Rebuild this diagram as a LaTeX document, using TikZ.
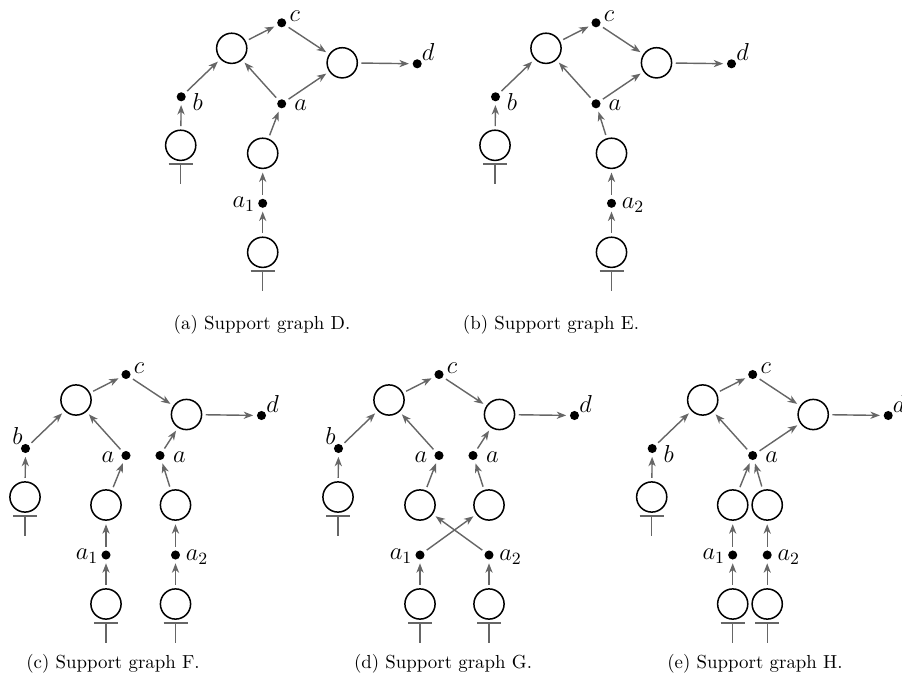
\documentclass[tikz,border=0pt]{standalone}
\usepackage{fix-cm}
\usetikzlibrary{arrows.meta}
\begin{document}
\begin{tikzpicture}[x=0.53pt,y=-0.53pt,
  gate/.style={circle,draw=black,line width=0.8pt,minimum size=16pt,inner sep=0pt},
  dot/.style={circle,fill=black,minimum size=4.8pt,inner sep=0pt},
  lbl/.style={inner sep=0pt,font=\fontsize{13}{15}\selectfont},
  arr/.style={draw=black!60,line width=0.75pt,-{Stealth[length=5pt,width=3.8pt,inset=1.5pt]},shorten >=1.8pt,shorten <=1.8pt},
  topbar/.style={draw=black!60,line width=0.75pt},
  captext/.style={inner sep=0pt}
]
\useasboundingbox (0,0) rectangle (902,681);
\clip (0,0) rectangle (902,681);

% ---------------- (a) ----------------
\begin{scope}[shift={(231.7,48.3)}]
  \node[gate] (aA1) at (0,0) {};
  \node[dot]  (ac)  at (50,-25.5) {};
  \node[gate] (aA2) at (110.5,14.5) {};
  \node[dot]  (ad)  at (185.5,15.5) {};
  \node[dot]  (ab)  at (-50.5,48.5) {};
  \node[dot]  (aa)  at (50,55.5) {};
  \node[gate] (aB)  at (-51,97) {};
  \node[gate] (aM1) at (31,105) {};
  \node[dot]  (aa1) at (31,155) {};
  \node[gate] (aG1) at (31,204) {};
  \node[lbl] (acl) at (63,-32) {$c$};
  \node[lbl] (adl) at (196.5,3.5) {$d$};
  \node[lbl] (abl) at (-34,54) {$b$};
  \node[lbl] (aal) at (69,57) {$a$};
  \node[lbl] (aa1l) at (12,156) {$a_1$};
\end{scope}
\node[captext] (capa) at (262,325) {(a) Support graph D.};
\draw[arr] (ab) -- (aA1);
\draw[arr] (aA1) -- (ac);
\draw[arr] (ac) -- (aA2);
\draw[arr] (aa) -- (aA1);
\draw[arr] (aa) -- (aA2);
\draw[arr] (aA2) -- (ad);
\draw[arr] (aB) -- (ab);
\draw[arr] (aM1) -- (aa);
\draw[arr] (aa1) -- (aM1);
\draw[arr] (aG1) -- (aa1);
\draw[topbar] (aB.south) ++(-12,3) -- ++(24,0) (aB.south) ++(0,3) -- ++(0,20);
\draw[topbar] (aG1.south) ++(-12,3) -- ++(24,0) (aG1.south) ++(0,3) -- ++(0,20);

% ---------------- (b) ----------------
\begin{scope}[shift={(546,48.3)}]
  \node[gate] (bA1) at (0,0) {};
  \node[dot]  (bc)  at (50,-25.5) {};
  \node[gate] (bA2) at (110.5,14.5) {};
  \node[dot]  (bd)  at (185.5,15.5) {};
  \node[dot]  (bb)  at (-50.5,48.5) {};
  \node[dot]  (ba)  at (50,55.5) {};
  \node[gate] (bB)  at (-51,97) {};
  \node[gate] (bM1) at (65.5,105) {};
  \node[dot]  (ba2) at (65.5,155) {};
  \node[gate] (bG1) at (65.5,204) {};
  \node[lbl] (bcl) at (63,-32) {$c$};
  \node[lbl] (bdl) at (196.5,3.5) {$d$};
  \node[lbl] (bbl) at (-34,54) {$b$};
  \node[lbl] (bal) at (69,57) {$a$};
  \node[lbl] (ba2l) at (87,157) {$a_2$};
\end{scope}
\node[captext] (capb) at (551,325) {(b) Support graph E.};
\draw[arr] (bb) -- (bA1);
\draw[arr] (bA1) -- (bc);
\draw[arr] (bc) -- (bA2);
\draw[arr] (ba) -- (bA1);
\draw[arr] (ba) -- (bA2);
\draw[arr] (bA2) -- (bd);
\draw[arr] (bB) -- (bb);
\draw[arr] (bM1) -- (ba);
\draw[arr] (ba2) -- (bM1);
\draw[arr] (bG1) -- (ba2);
\draw[topbar] (bB.south) ++(-12,3) -- ++(24,0) (bB.south) ++(0,3) -- ++(0,20);
\draw[topbar] (bG1.south) ++(-12,3) -- ++(24,0) (bG1.south) ++(0,3) -- ++(0,20);

% ---------------- (c) ----------------
\begin{scope}[shift={(76,400)}]
  \node[gate] (cA1) at (0,0) {};
  \node[dot]  (cc)  at (50,-25.5) {};
  \node[gate] (cA2) at (110.5,14.5) {};
  \node[dot]  (cd)  at (185.5,15.5) {};
  \node[dot]  (cb)  at (-50.5,48.5) {};
  \node[dot]  (caL) at (50,55.5) {};
  \node[dot]  (caR) at (84,55.5) {};
  \node[gate] (cB)  at (-51,97) {};
  \node[gate] (cM1) at (30,105) {};
  \node[gate] (cM2) at (99.5,105) {};
  \node[dot]  (ca1) at (30,155) {};
  \node[dot]  (ca2) at (99.5,155) {};
  \node[gate] (cG1) at (30,204) {};
  \node[gate] (cG2) at (99.5,204) {};
  \node[lbl] (ccl) at (63,-32) {$c$};
  \node[lbl] (cdl) at (196.5,3.5) {$d$};
  \node[lbl] (cbl) at (-58.5,36) {$b$};
  \node[lbl] (caLl) at (32,57) {$a$};
  \node[lbl] (caRl) at (103.5,57) {$a$};
  \node[lbl] (ca1l) at (11,156) {$a_1$};
  \node[lbl] (ca2l) at (121,157) {$a_2$};
\end{scope}
\node[captext] (capc) at (113,664) {(c) Support graph F.};
\draw[arr] (cb) -- (cA1);
\draw[arr] (cA1) -- (cc);
\draw[arr] (cc) -- (cA2);
\draw[arr] (caL) -- (cA1);
\draw[arr] (caR) -- (cA2);
\draw[arr] (cA2) -- (cd);
\draw[arr] (cB) -- (cb);
\draw[arr] (cM1) -- (caL);
\draw[arr] (cM2) -- (caR);
\draw[arr] (ca1) -- (cM1);
\draw[arr] (ca2) -- (cM2);
\draw[arr] (cG1) -- (ca1);
\draw[arr] (cG2) -- (ca2);
\draw[topbar] (cB.south) ++(-12,3) -- ++(24,0) (cB.south) ++(0,3) -- ++(0,20);
\draw[topbar] (cG1.south) ++(-12,3) -- ++(24,0) (cG1.south) ++(0,3) -- ++(0,20);
\draw[topbar] (cG2.south) ++(-12,3) -- ++(24,0) (cG2.south) ++(0,3) -- ++(0,20);

% ---------------- (d) ----------------
\begin{scope}[shift={(389,400)}]
  \node[gate] (dA1) at (0,0) {};
  \node[dot]  (dc)  at (50,-25.5) {};
  \node[gate] (dA2) at (110.5,14.5) {};
  \node[dot]  (dd)  at (185.5,15.5) {};
  \node[dot]  (db)  at (-50.5,48.5) {};
  \node[dot]  (daL) at (50,55.5) {};
  \node[dot]  (daR) at (84,55.5) {};
  \node[gate] (dB)  at (-51,97) {};
  \node[gate] (dM1) at (31,105) {};
  \node[gate] (dM2) at (100,105) {};
  \node[dot]  (da1) at (31,155) {};
  \node[dot]  (da2) at (100,155) {};
  \node[gate] (dG1) at (31,204) {};
  \node[gate] (dG2) at (100,204) {};
  \node[lbl] (dcl) at (63,-32) {$c$};
  \node[lbl] (ddl) at (196.5,3.5) {$d$};
  \node[lbl] (dbl) at (-58.5,36) {$b$};
  \node[lbl] (daLl) at (32,57) {$a$};
  \node[lbl] (daRl) at (103.5,57) {$a$};
  \node[lbl] (da1l) at (12,156) {$a_1$};
  \node[lbl] (da2l) at (121.5,157) {$a_2$};
\end{scope}
\node[captext] (capd) at (443,664) {(d) Support graph G.};
\draw[arr] (db) -- (dA1);
\draw[arr] (dA1) -- (dc);
\draw[arr] (dc) -- (dA2);
\draw[arr] (daL) -- (dA1);
\draw[arr] (daR) -- (dA2);
\draw[arr] (dA2) -- (dd);
\draw[arr] (dB) -- (db);
\draw[arr] (dM1) -- (daL);
\draw[arr] (dM2) -- (daR);
\draw[arr] (da1) -- (dM2);
\draw[arr] (da2) -- (dM1);
\draw[arr] (dG1) -- (da1);
\draw[arr] (dG2) -- (da2);
\draw[topbar] (dB.south) ++(-12,3) -- ++(24,0) (dB.south) ++(0,3) -- ++(0,20);
\draw[topbar] (dG1.south) ++(-12,3) -- ++(24,0) (dG1.south) ++(0,3) -- ++(0,20);
\draw[topbar] (dG2.south) ++(-12,3) -- ++(24,0) (dG2.south) ++(0,3) -- ++(0,20);

% ---------------- (e) ----------------
\begin{scope}[shift={(702.7,400)}]
  \node[gate] (eA1) at (0,0) {};
  \node[dot]  (ec)  at (50,-25.5) {};
  \node[gate] (eA2) at (110.5,14.5) {};
  \node[dot]  (ed)  at (185.5,15.5) {};
  \node[dot]  (eb)  at (-50.5,48.5) {};
  \node[dot]  (ea)  at (50,55.5) {};
  \node[gate] (eB)  at (-51,97) {};
  \node[gate] (eM1) at (30,105) {};
  \node[gate] (eM2) at (64.5,105) {};
  \node[dot]  (ea1) at (30,155) {};
  \node[dot]  (ea2) at (64.5,155) {};
  \node[gate] (eG1) at (30,204) {};
  \node[gate] (eG2) at (64.5,204) {};
  \node[lbl] (ecl) at (63,-32) {$c$};
  \node[lbl] (edl) at (196.5,3.5) {$d$};
  \node[lbl] (ebl) at (-34,54) {$b$};
  \node[lbl] (eal) at (69,57) {$a$};
  \node[lbl] (ea1l) at (11,156) {$a_1$};
  \node[lbl] (ea2l) at (86,157) {$a_2$};
\end{scope}
\node[captext] (cape) at (755,664) {(e) Support graph H.};
\draw[arr] (eb) -- (eA1);
\draw[arr] (eA1) -- (ec);
\draw[arr] (ec) -- (eA2);
\draw[arr] (ea) -- (eA1);
\draw[arr] (ea) -- (eA2);
\draw[arr] (eA2) -- (ed);
\draw[arr] (eB) -- (eb);
\draw[arr] (eM1) -- (ea);
\draw[arr] (eM2) -- (ea);
\draw[arr] (ea1) -- (eM1);
\draw[arr] (ea2) -- (eM2);
\draw[arr] (eG1) -- (ea1);
\draw[arr] (eG2) -- (ea2);
\draw[topbar] (eB.south) ++(-12,3) -- ++(24,0) (eB.south) ++(0,3) -- ++(0,20);
\draw[topbar] (eG1.south) ++(-12,3) -- ++(24,0) (eG1.south) ++(0,3) -- ++(0,20);
\draw[topbar] (eG2.south) ++(-12,3) -- ++(24,0) (eG2.south) ++(0,3) -- ++(0,20);
\end{tikzpicture}
\end{document}
